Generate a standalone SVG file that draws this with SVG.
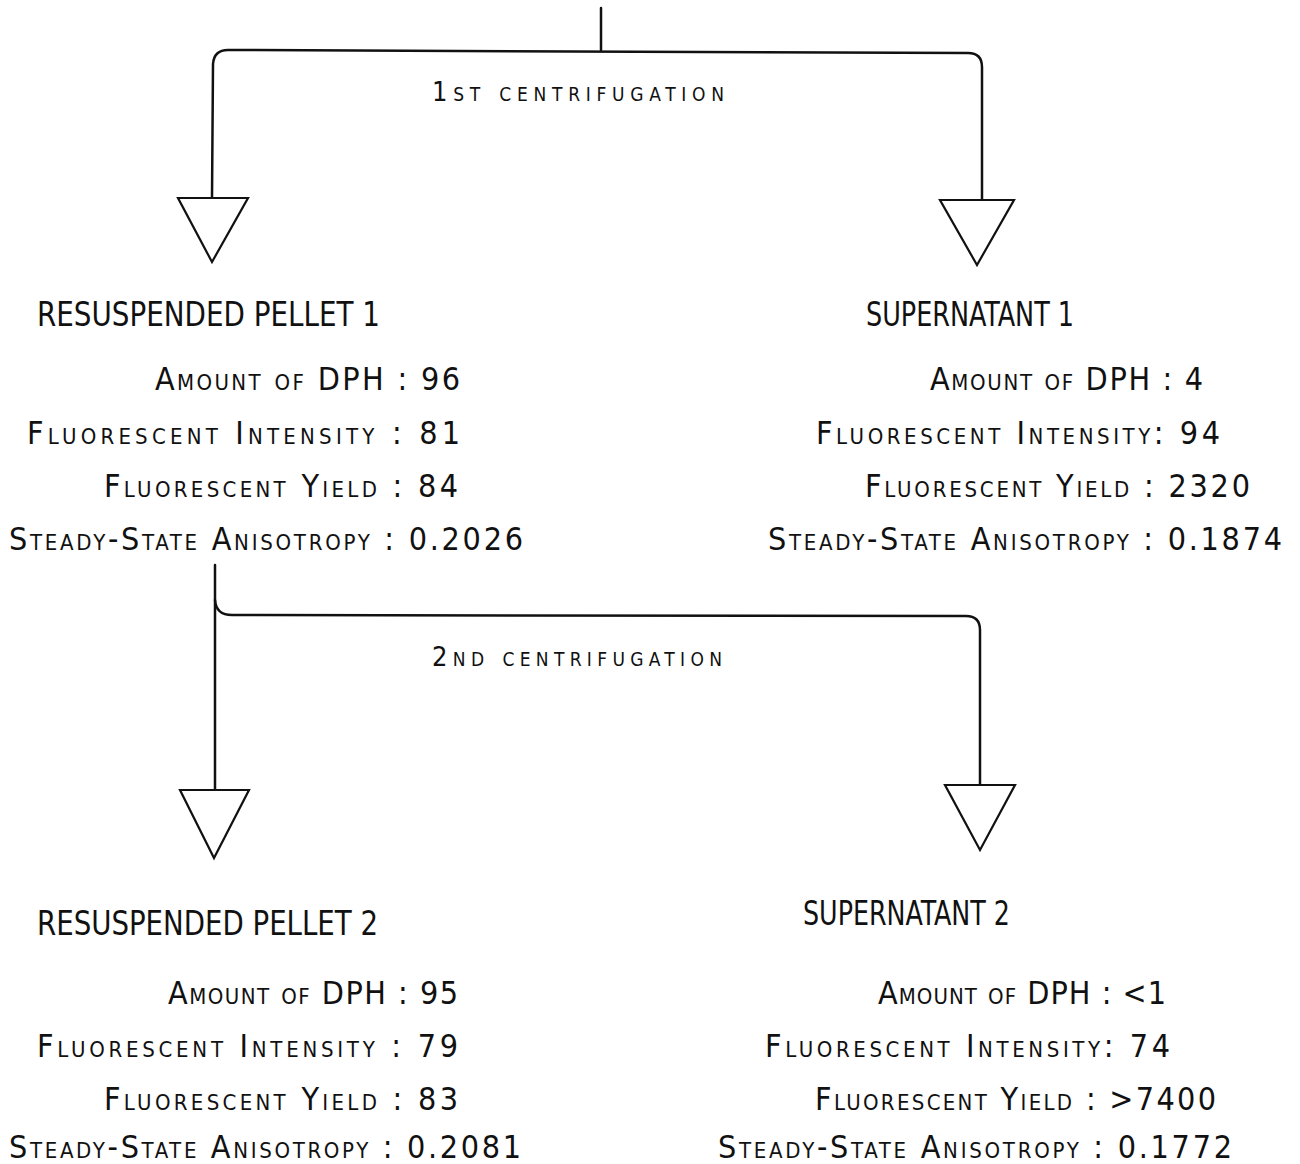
<svg xmlns="http://www.w3.org/2000/svg" width="1300" height="1164" viewBox="0 0 1300 1164">
<style>
.bg{fill:#fff}
.ln{fill:none;stroke:#111;stroke-width:2.5;stroke-linejoin:round;stroke-linecap:round}
.tri{fill:#fff;stroke:#111;stroke-width:2.2;stroke-linejoin:miter}
text{font-family:"DejaVu Sans Condensed","DejaVu Sans","Liberation Sans",sans-serif;font-stretch:condensed;fill:#111}
.hd{font-size:34px}
.dt{font-size:32px;font-variant:small-caps}
.lb{font-size:27px;font-variant:small-caps}
</style>
<rect class="bg" x="0" y="0" width="1300" height="1164"/>
<g id="connectors">
<path class="ln" d="M601,8 L601,50"/>
<path class="ln" d="M212,198 L213,64 Q214,50 228,50 L968,53 Q982,53 982,67 L982,200"/>
<path class="ln" d="M215,565 L215,790"/>
<path class="ln" d="M215,600 Q216,615 232,615 L966,616 Q980,616 980,630 L980,785"/>
</g>
<g id="label-1st">
<text class="lb" x="432" y="101" textLength="292" lengthAdjust="spacing">1st centrifugation</text>
</g>
<g id="label-2nd">
<text class="lb" x="432" y="666" textLength="290" lengthAdjust="spacing">2nd centrifugation</text>
</g>
<g id="arrow-pellet1"><polygon class="tri" points="178,198 248,198 212,262"/></g>
<g id="arrow-super1"><polygon class="tri" points="940,200 1014,200 977,265"/></g>
<g id="arrow-pellet2"><polygon class="tri" points="180,790 249,790 214,858"/></g>
<g id="arrow-super2"><polygon class="tri" points="945,785 1015,785 980,850"/></g>
<g id="node-pellet1">
<text class="hd" x="37" y="326" textLength="343" lengthAdjust="spacingAndGlyphs">RESUSPENDED PELLET 1</text>
<text class="dt" x="155" y="390" textLength="305" lengthAdjust="spacing">Amount of DPH  : 96</text>
<text class="dt" x="27" y="444" textLength="433" lengthAdjust="spacing">Fluorescent Intensity  : 81</text>
<text class="dt" x="104" y="497" textLength="354" lengthAdjust="spacing">Fluorescent Yield : 84</text>
<text class="dt" x="9" y="550" textLength="514" lengthAdjust="spacing">Steady-State Anisotropy : 0.2026</text>
</g>
<g id="node-super1">
<text class="hd" x="866" y="326" textLength="208" lengthAdjust="spacingAndGlyphs">SUPERNATANT 1</text>
<text class="dt" x="930" y="390" textLength="273" lengthAdjust="spacing">Amount of DPH : 4</text>
<text class="dt" x="816" y="444" textLength="404" lengthAdjust="spacing">Fluorescent Intensity: 94</text>
<text class="dt" x="865" y="497" textLength="385" lengthAdjust="spacing">Fluorescent Yield : 2320</text>
<text class="dt" x="768" y="550" textLength="514" lengthAdjust="spacing">Steady-State Anisotropy : 0.1874</text>
</g>
<g id="node-pellet2">
<text class="hd" x="37" y="935" textLength="341" lengthAdjust="spacingAndGlyphs">RESUSPENDED PELLET 2</text>
<text class="dt" x="168" y="1004" textLength="290" lengthAdjust="spacing">Amount of DPH : 95</text>
<text class="dt" x="37" y="1057" textLength="421" lengthAdjust="spacing">Fluorescent Intensity : 79</text>
<text class="dt" x="104" y="1110" textLength="354" lengthAdjust="spacing">Fluorescent Yield : 83</text>
<text class="dt" x="9" y="1158" textLength="512" lengthAdjust="spacing">Steady-State Anisotropy : 0.2081</text>
</g>
<g id="node-super2">
<text class="hd" x="803" y="925" textLength="207" lengthAdjust="spacingAndGlyphs">SUPERNATANT 2</text>
<text class="dt" x="878" y="1004" textLength="288" lengthAdjust="spacing">Amount of DPH : &lt;1</text>
<text class="dt" x="765" y="1057" textLength="405" lengthAdjust="spacing">Fluorescent Intensity: 74</text>
<text class="dt" x="815" y="1110" textLength="401" lengthAdjust="spacing">Fluorescent Yield : &gt;7400</text>
<text class="dt" x="718" y="1158" textLength="514" lengthAdjust="spacing">Steady-State Anisotropy : 0.1772</text>
</g>
</svg>
